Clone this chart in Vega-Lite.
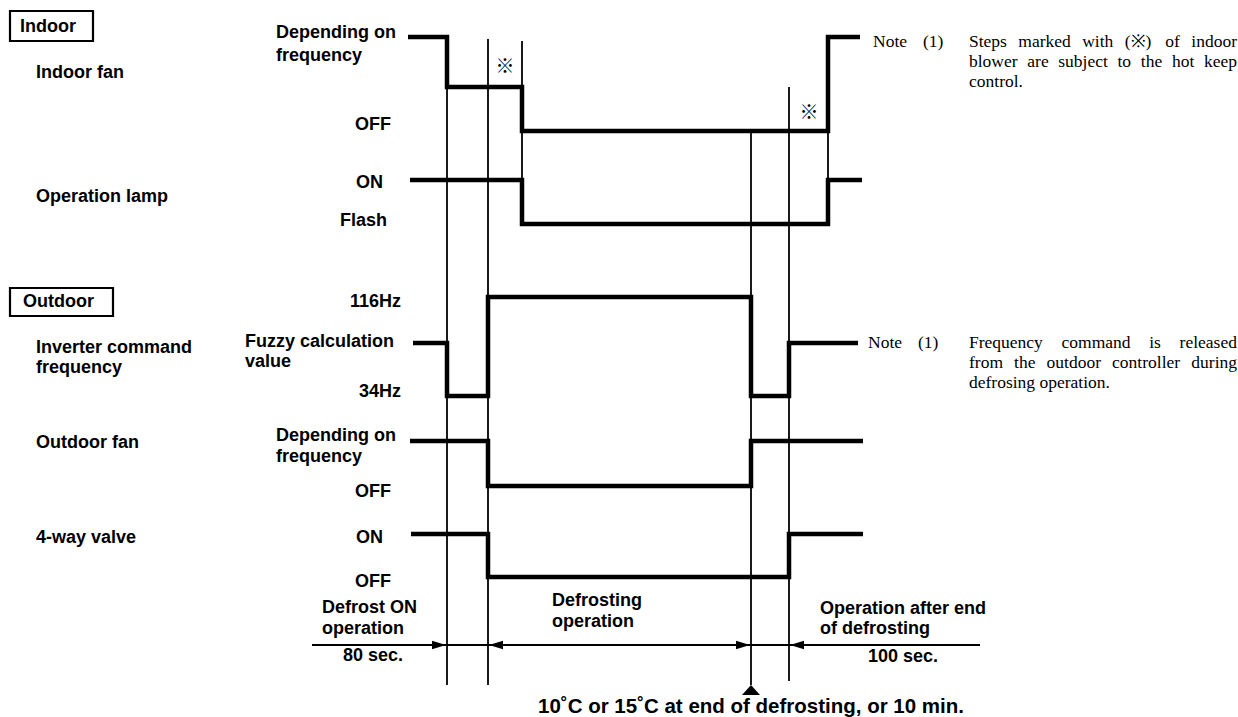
{
  "$schema": "https://vega.github.io/schema/vega-lite/v6.json",
  "width": 1238,
  "height": 717,
  "padding": 0,
  "autosize": "none",
  "background": "white",
  "config": {"view": {"stroke": null}},
  "datasets": {
    "waves": [
      {"signal": "fan", "i": 1, "x": 408, "y": 37},
      {"signal": "fan", "i": 2, "x": 447, "y": 37},
      {"signal": "fan", "i": 3, "x": 447, "y": 87},
      {"signal": "fan", "i": 4, "x": 522, "y": 87},
      {"signal": "fan", "i": 5, "x": 522, "y": 131},
      {"signal": "fan", "i": 6, "x": 828, "y": 131},
      {"signal": "fan", "i": 7, "x": 828, "y": 37},
      {"signal": "fan", "i": 8, "x": 860, "y": 37},
      {"signal": "lamp", "i": 1, "x": 410, "y": 180},
      {"signal": "lamp", "i": 2, "x": 522, "y": 180},
      {"signal": "lamp", "i": 3, "x": 522, "y": 224},
      {"signal": "lamp", "i": 4, "x": 828, "y": 224},
      {"signal": "lamp", "i": 5, "x": 828, "y": 180},
      {"signal": "lamp", "i": 6, "x": 862, "y": 180},
      {"signal": "inverter", "i": 1, "x": 413, "y": 343},
      {"signal": "inverter", "i": 2, "x": 447, "y": 343},
      {"signal": "inverter", "i": 3, "x": 447, "y": 396},
      {"signal": "inverter", "i": 4, "x": 488, "y": 396},
      {"signal": "inverter", "i": 5, "x": 488, "y": 297},
      {"signal": "inverter", "i": 6, "x": 751, "y": 297},
      {"signal": "inverter", "i": 7, "x": 751, "y": 396},
      {"signal": "inverter", "i": 8, "x": 789, "y": 396},
      {"signal": "inverter", "i": 9, "x": 789, "y": 343},
      {"signal": "inverter", "i": 10, "x": 858, "y": 343},
      {"signal": "outfan", "i": 1, "x": 410, "y": 441},
      {"signal": "outfan", "i": 2, "x": 488, "y": 441},
      {"signal": "outfan", "i": 3, "x": 488, "y": 486},
      {"signal": "outfan", "i": 4, "x": 751, "y": 486},
      {"signal": "outfan", "i": 5, "x": 751, "y": 441},
      {"signal": "outfan", "i": 6, "x": 863, "y": 441},
      {"signal": "valve", "i": 1, "x": 411, "y": 534},
      {"signal": "valve", "i": 2, "x": 488, "y": 534},
      {"signal": "valve", "i": 3, "x": 488, "y": 577},
      {"signal": "valve", "i": 4, "x": 789, "y": 577},
      {"signal": "valve", "i": 5, "x": 789, "y": 534},
      {"signal": "valve", "i": 6, "x": 863, "y": 534}
    ],
    "verticals": [
      {"x": 447, "y": 87, "y2": 685},
      {"x": 488, "y": 39, "y2": 685},
      {"x": 522, "y": 41, "y2": 180},
      {"x": 751, "y": 131, "y2": 685},
      {"x": 789, "y": 87, "y2": 681},
      {"x": 828, "y": 131, "y2": 180}
    ],
    "timeline": [
      {"x": 312, "x2": 980, "y": 645}
    ],
    "arrows": [
      {"x": 446, "y": 645, "dir": "right"},
      {"x": 489, "y": 645, "dir": "left"},
      {"x": 750, "y": 645, "dir": "right"},
      {"x": 790, "y": 645, "dir": "left"}
    ],
    "marker": [
      {"x": 751, "y": 690}
    ],
    "boxes": [
      {"x": 10, "x2": 93, "y": 11, "y2": 41},
      {"x": 10, "x2": 113, "y": 288, "y2": 316}
    ],
    "labels": [
      {"x": 20, "y": 27, "text": "Indoor"},
      {"x": 36, "y": 73, "text": "Indoor fan"},
      {"x": 36, "y": 197, "text": "Operation lamp"},
      {"x": 276, "y": 33, "text": "Depending on"},
      {"x": 276, "y": 56, "text": "frequency"},
      {"x": 355, "y": 125, "text": "OFF"},
      {"x": 356, "y": 183, "text": "ON"},
      {"x": 340, "y": 221, "text": "Flash"},
      {"x": 23, "y": 302, "text": "Outdoor"},
      {"x": 36, "y": 348, "text": "Inverter command"},
      {"x": 36, "y": 368, "text": "frequency"},
      {"x": 350, "y": 302, "text": "116Hz"},
      {"x": 245, "y": 342, "text": "Fuzzy calculation"},
      {"x": 245, "y": 362, "text": "value"},
      {"x": 359, "y": 392, "text": "34Hz"},
      {"x": 36, "y": 443, "text": "Outdoor fan"},
      {"x": 276, "y": 436, "text": "Depending on"},
      {"x": 276, "y": 457, "text": "frequency"},
      {"x": 355, "y": 492, "text": "OFF"},
      {"x": 36, "y": 538, "text": "4-way valve"},
      {"x": 356, "y": 538, "text": "ON"},
      {"x": 355, "y": 582, "text": "OFF"},
      {"x": 322, "y": 608, "text": "Defrost ON"},
      {"x": 322, "y": 629, "text": "operation"},
      {"x": 343, "y": 656, "text": "80 sec."},
      {"x": 552, "y": 601, "text": "Defrosting"},
      {"x": 552, "y": 622, "text": "operation"},
      {"x": 820, "y": 609, "text": "Operation after end"},
      {"x": 820, "y": 629, "text": "of defrosting"},
      {"x": 868, "y": 657, "text": "100 sec."}
    ],
    "caption": [
      {"x": 751, "y": 707, "text": "10˚C or 15˚C at end of defrosting, or 10 min."}
    ],
    "notes": [
      {"x": 873, "y": 42, "text": "Note"},
      {"x": 923, "y": 42, "text": "(1)"},
      {"x": 969, "y": 42, "text": "Steps"},
      {"x": 1018.3, "y": 42, "text": "marked"},
      {"x": 1082.2, "y": 42, "text": "with"},
      {"x": 1124.7, "y": 42, "text": "(※)"},
      {"x": 1165.3, "y": 42, "text": "of"},
      {"x": 1191.3, "y": 42, "text": "indoor"},
      {"x": 969, "y": 62, "text": "blower"},
      {"x": 1027.3, "y": 62, "text": "are"},
      {"x": 1058.3, "y": 62, "text": "subject"},
      {"x": 1117.5, "y": 62, "text": "to"},
      {"x": 1140.8, "y": 62, "text": "the"},
      {"x": 1171.9, "y": 62, "text": "hot"},
      {"x": 1204, "y": 62, "text": "keep"},
      {"x": 969, "y": 82, "text": "control."},
      {"x": 868, "y": 343, "text": "Note"},
      {"x": 918, "y": 343, "text": "(1)"},
      {"x": 969, "y": 343, "text": "Frequency"},
      {"x": 1061.5, "y": 343, "text": "command"},
      {"x": 1149.2, "y": 343, "text": "is"},
      {"x": 1179.6, "y": 343, "text": "released"},
      {"x": 969, "y": 363, "text": "from"},
      {"x": 1014.1, "y": 363, "text": "the"},
      {"x": 1046.6, "y": 363, "text": "outdoor"},
      {"x": 1112.1, "y": 363, "text": "controller"},
      {"x": 1191.3, "y": 363, "text": "during"},
      {"x": 969, "y": 383, "text": "defrosing operation."}
    ],
    "stars": [
      {"x": 505, "y": 67, "text": "※"},
      {"x": 809, "y": 113, "text": "※"}
    ]
  },
  "layer": [
    {
      "data": {"name": "boxes"},
      "mark": {"type": "rect", "fill": null, "filled": false, "stroke": "black", "strokeWidth": 2.2},
      "encoding": {
        "x": {"field": "x", "type": "quantitative", "scale": {"domain": [0, 1238], "nice": false, "zero": false}, "axis": null},
        "x2": {"field": "x2"},
        "y": {"field": "y", "type": "quantitative", "scale": {"domain": [0, 717], "nice": false, "zero": false, "reverse": true}, "axis": null},
        "y2": {"field": "y2"}
      }
    },
    {
      "data": {"name": "verticals"},
      "mark": {"type": "rule", "color": "black", "strokeWidth": 1.8},
      "encoding": {
        "x": {"field": "x", "type": "quantitative", "scale": {"domain": [0, 1238], "nice": false, "zero": false}, "axis": null},
        "y": {"field": "y", "type": "quantitative", "scale": {"domain": [0, 717], "nice": false, "zero": false, "reverse": true}, "axis": null},
        "y2": {"field": "y2"}
      }
    },
    {
      "data": {"name": "timeline"},
      "mark": {"type": "rule", "color": "black", "strokeWidth": 2.2},
      "encoding": {
        "x": {"field": "x", "type": "quantitative", "scale": {"domain": [0, 1238], "nice": false, "zero": false}, "axis": null},
        "x2": {"field": "x2"},
        "y": {"field": "y", "type": "quantitative", "scale": {"domain": [0, 717], "nice": false, "zero": false, "reverse": true}, "axis": null}
      }
    },
    {
      "data": {"name": "waves"},
      "mark": {"type": "line", "color": "black", "strokeWidth": 4.5, "strokeJoin": "miter", "strokeCap": "butt"},
      "encoding": {
        "x": {"field": "x", "type": "quantitative", "scale": {"domain": [0, 1238], "nice": false, "zero": false}, "axis": null},
        "y": {"field": "y", "type": "quantitative", "scale": {"domain": [0, 717], "nice": false, "zero": false, "reverse": true}, "axis": null},
        "detail": {"field": "signal", "type": "nominal"},
        "order": {"field": "i", "type": "quantitative"}
      }
    },
    {
      "data": {"name": "arrows"},
      "mark": {"type": "point", "filled": true, "color": "black", "opacity": 1, "size": 784},
      "encoding": {
        "x": {"field": "x", "type": "quantitative", "scale": {"domain": [0, 1238], "nice": false, "zero": false}, "axis": null},
        "y": {"field": "y", "type": "quantitative", "scale": {"domain": [0, 717], "nice": false, "zero": false, "reverse": true}, "axis": null},
        "shape": {"field": "dir", "type": "nominal", "scale": {"domain": ["right", "left"], "range": ["M 0 0 L -1 -0.3 L -1 0.3 Z", "M 0 0 L 1 -0.3 L 1 0.3 Z"]}, "legend": null}
      }
    },
    {
      "data": {"name": "marker"},
      "mark": {"type": "point", "filled": true, "color": "black", "opacity": 1, "size": 324, "shape": "M 0 -0.55 L 1 0.55 L -1 0.55 Z"},
      "encoding": {
        "x": {"field": "x", "type": "quantitative", "scale": {"domain": [0, 1238], "nice": false, "zero": false}, "axis": null},
        "y": {"field": "y", "type": "quantitative", "scale": {"domain": [0, 717], "nice": false, "zero": false, "reverse": true}, "axis": null}
      }
    },
    {
      "data": {"name": "labels"},
      "mark": {"type": "text", "align": "left", "baseline": "middle", "font": "Liberation Sans", "fontWeight": "bold", "fontSize": 18, "color": "black"},
      "encoding": {
        "x": {"field": "x", "type": "quantitative", "scale": {"domain": [0, 1238], "nice": false, "zero": false}, "axis": null},
        "y": {"field": "y", "type": "quantitative", "scale": {"domain": [0, 717], "nice": false, "zero": false, "reverse": true}, "axis": null},
        "text": {"field": "text", "type": "nominal"}
      }
    },
    {
      "data": {"name": "caption"},
      "mark": {"type": "text", "align": "center", "baseline": "middle", "font": "Liberation Sans", "fontWeight": "bold", "fontSize": 20.5, "color": "black"},
      "encoding": {
        "x": {"field": "x", "type": "quantitative", "scale": {"domain": [0, 1238], "nice": false, "zero": false}, "axis": null},
        "y": {"field": "y", "type": "quantitative", "scale": {"domain": [0, 717], "nice": false, "zero": false, "reverse": true}, "axis": null},
        "text": {"field": "text", "type": "nominal"}
      }
    },
    {
      "data": {"name": "notes"},
      "mark": {"type": "text", "align": "left", "baseline": "middle", "font": "Liberation Serif", "fontSize": 17.5, "color": "black"},
      "encoding": {
        "x": {"field": "x", "type": "quantitative", "scale": {"domain": [0, 1238], "nice": false, "zero": false}, "axis": null},
        "y": {"field": "y", "type": "quantitative", "scale": {"domain": [0, 717], "nice": false, "zero": false, "reverse": true}, "axis": null},
        "text": {"field": "text", "type": "nominal"}
      }
    },
    {
      "data": {"name": "stars"},
      "mark": {"type": "text", "align": "center", "baseline": "middle", "font": "Noto Sans CJK JP", "fontSize": 19, "color": "black"},
      "encoding": {
        "x": {"field": "x", "type": "quantitative", "scale": {"domain": [0, 1238], "nice": false, "zero": false}, "axis": null},
        "y": {"field": "y", "type": "quantitative", "scale": {"domain": [0, 717], "nice": false, "zero": false, "reverse": true}, "axis": null},
        "text": {"field": "text", "type": "nominal"}
      }
    }
  ]
}
